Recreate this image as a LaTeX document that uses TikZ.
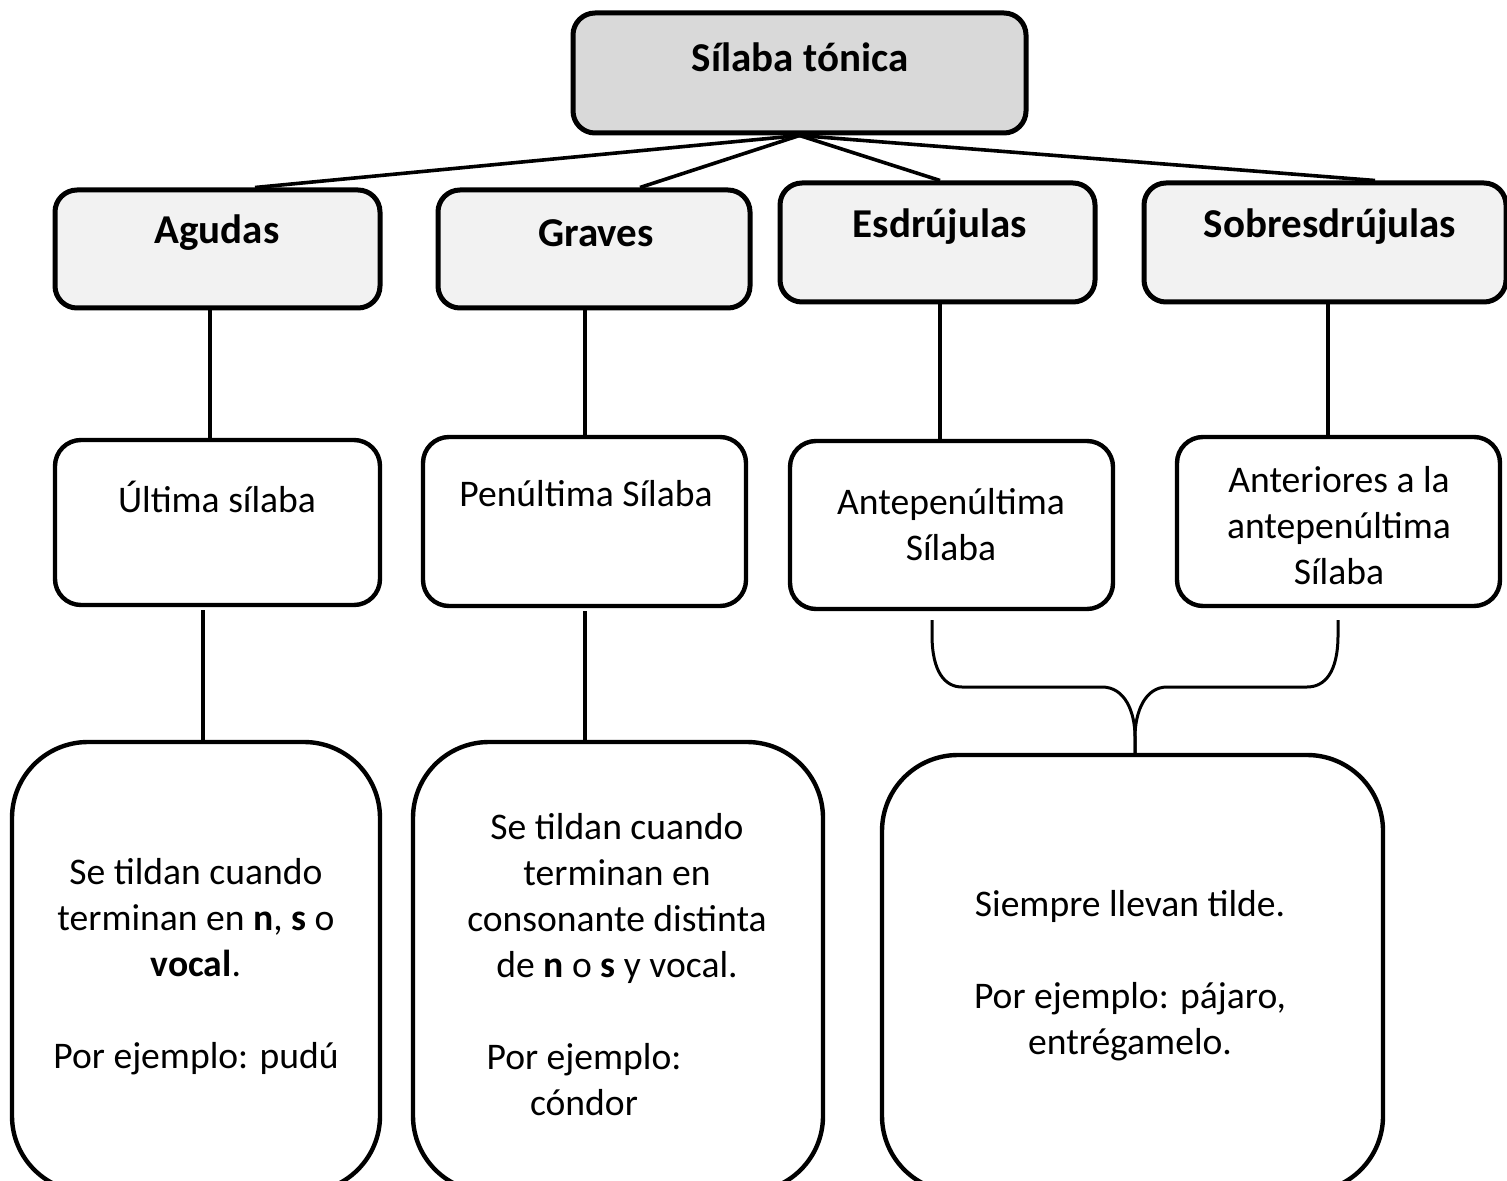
\documentclass[tikz,border=0pt]{standalone}
\usepackage{fontspec}
\setmainfont{Carlito}
\usetikzlibrary{fit}
\begin{document}
\begin{tikzpicture}[x=0.5pt,y=-0.5pt,
  topbox/.style={draw, line width=2.5pt, rounded corners=11pt, fill=gray!30, inner sep=0pt},
  catbox/.style={draw, line width=2.5pt, rounded corners=11pt, fill=black!5, inner sep=0pt},
  midbox/.style={draw, line width=2.2pt, rounded corners=13pt, fill=white, inner sep=0pt},
  bigbox/.style={draw, line width=2.2pt, rounded corners=38pt, fill=white, inner sep=0pt},
  conn/.style={line width=1.8pt},
  bracel/.style={line width=1.5pt},
  ttl/.style={font=\fontsize{20.5}{24}\selectfont\bfseries, inner sep=0pt},
  txt/.style={font=\fontsize{18.8}{23}\selectfont, align=center, inner sep=0pt}]
\useasboundingbox (0,0) rectangle (1507,1181);
\clip (0,0) rectangle (1507,1181);
\fill[white] (0,0) rectangle (1507,1181);

% top node
\node[topbox, fit={(573,13) (1026,133)}] (top) {};
\node[ttl] (toptxt) at (800,57) {Sílaba tónica};

% category nodes
\node[catbox, fit={(55,190) (380,308)}] (agudas) {};
\node[ttl] (agudastxt) at (217,233) {Agudas};
\node[catbox, fit={(438,190) (750,308)}] (graves) {};
\node[ttl] (gravestxt) at (596,233) {Graves};
\node[catbox, fit={(780,183) (1095,302)}] (esdr) {};
\node[ttl] (esdrtxt) at (940,227) {Esdrújulas};
\node[catbox, fit={(1144,183) (1506,302)}] (sobre) {};
\node[ttl] (sobretxt) at (1330,227) {Sobresdrújulas};

% middle nodes
\node[midbox, fit={(55,440) (380,605)}] (ultima) {};
\node[txt] (ultimatxt) at (217,497) {Última sílaba};
\node[midbox, fit={(423,437) (746,606)}] (penult) {};
\node[txt] (penulttxt) at (586,494) {Penúltima Sílaba};
\node[midbox, fit={(790,441) (1113,609)}] (antep) {};
\node[txt] (anteptxt) at (951,525) {Antepenúltima\\Sílaba};
\node[midbox, fit={(1177,437) (1500,606)}] (anter) {};
\node[txt] (antertxt) at (1339,526) {Anteriores a la\\antepenúltima\\Sílaba};

% bottom nodes
\node[bigbox, fit={(12,742) (380,1192)}] (b1) {};
\node[txt] (b1txt) at (196,967) {Se tildan cuando\\terminan en \textbf{n}, \textbf{s} o\\\textbf{vocal}.\\[23pt]Por ejemplo: pudú};
\node[bigbox, fit={(413,742) (823,1192)}] (b2) {};
\node[txt] (b2txt) at (617,898) {Se tildan cuando\\terminan en\\consonante distinta\\de \textbf{n} o \textbf{s} y vocal.};
\node[txt] (b2ex) at (584,1080) {Por ejemplo:\\cóndor};
\node[bigbox, fit={(882,755) (1383,1192)}] (b3) {};
\node[txt] (b3txt) at (1130,976) {Siempre llevan tilde.\\[23pt]Por ejemplo: pájaro,\\entrégamelo.};

% connectors from top
\draw[conn] (top.south) -- (agudas.north -| 255,0);
\draw[conn] (top.south) -- (graves.north -| 640,0);
\draw[conn] (top.south) -- (esdr.north -| 940,0);
\draw[conn] (top.south) -- (sobre.north -| 1375,0);

% vertical connectors
\draw[conn] (agudas.south -| 210,0) -- (ultima.north -| 210,0);
\draw[conn] (graves.south -| 585,0) -- (penult.north -| 585,0);
\draw[conn] (esdr.south -| 940,0) -- (antep.north -| 940,0);
\draw[conn] (sobre.south -| 1328,0) -- (anter.north -| 1328,0);

\coordinate (u1) at (203,610);
\coordinate (p1) at (585,611);
\draw[conn] (u1) -- (b1.north -| u1);
\draw[conn] (p1) -- (b2.north -| p1);

% brace
\coordinate (bl) at (932,620);
\coordinate (br) at (1338,620);
\coordinate (tip) at (b3.north -| 1135,0);
\draw[bracel] (bl) -- (932,635) .. controls (932,672) and (945,687) .. (962,687)
  -- (1102,687) .. controls (1125,687) and (1135,712) .. (1135,737) -- (tip);
\draw[bracel] (br) -- (1338,635) .. controls (1338,672) and (1325,687) .. (1307,687)
  -- (1167,687) .. controls (1145,687) and (1135,712) .. (1135,737) -- (tip);
\end{tikzpicture}
\end{document}
